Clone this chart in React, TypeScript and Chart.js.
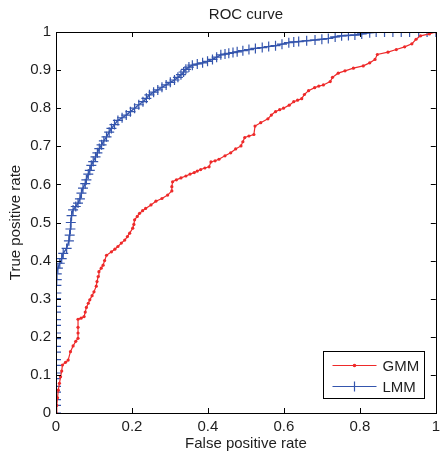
import React, { useEffect, useRef } from "react";
import { Chart, registerables } from "chart.js";

Chart.register(...registerables);

const xTicks = [0, 0.2, 0.4, 0.6, 0.8, 1];
const yTicks = [0, 0.1, 0.2, 0.3, 0.4, 0.5, 0.6, 0.7, 0.8, 0.9, 1];

const gmmLabel = "GMM";
const lmmLabel = "LMM";

const gmmFpr = [
  0, 0.002, 0.004, 0.006, 0.009, 0.012, 0.015, 0.017, 0.025, 0.032, 0.038, 0.045, 0.052, 0.058, 0.058, 0.058, 0.058,
  0.066, 0.074, 0.077, 0.08, 0.085, 0.089, 0.095, 0.1, 0.106, 0.108, 0.111, 0.113, 0.119, 0.124, 0.128, 0.133, 0.146,
  0.155, 0.163, 0.172, 0.181, 0.188, 0.194, 0.202, 0.205, 0.207, 0.214, 0.22, 0.228, 0.236, 0.25, 0.263, 0.279, 0.294,
  0.305, 0.305, 0.307, 0.317, 0.329, 0.342, 0.353, 0.364, 0.372, 0.381, 0.392, 0.403, 0.408, 0.419, 0.429, 0.445, 0.46,
  0.473, 0.487, 0.492, 0.497, 0.508, 0.521, 0.524, 0.539, 0.558, 0.567, 0.578, 0.589, 0.599, 0.614, 0.626, 0.636, 0.647,
  0.654, 0.665, 0.681, 0.692, 0.704, 0.722, 0.728, 0.743, 0.761, 0.783, 0.809, 0.826, 0.84, 0.846, 0.874, 0.896, 0.918,
  0.937, 0.948, 0.96, 0.983, 1.0,
];
const gmmTpr = [
  0, 0.02, 0.04, 0.06, 0.078, 0.095, 0.11, 0.126, 0.133, 0.139, 0.161, 0.176, 0.188, 0.196, 0.21, 0.225, 0.246,
  0.249, 0.253, 0.265, 0.277, 0.288, 0.297, 0.308, 0.318, 0.333, 0.345, 0.358, 0.371, 0.38, 0.388, 0.4, 0.414, 0.423,
  0.43, 0.437, 0.446, 0.454, 0.463, 0.472, 0.485, 0.495, 0.507, 0.516, 0.524, 0.531, 0.537, 0.546, 0.556, 0.563, 0.572,
  0.583, 0.594, 0.607, 0.612, 0.617, 0.622, 0.627, 0.631, 0.635, 0.639, 0.643, 0.646, 0.659, 0.662, 0.666, 0.675, 0.683,
  0.693, 0.701, 0.712, 0.723, 0.727, 0.731, 0.753, 0.762, 0.772, 0.782, 0.791, 0.796, 0.8, 0.808, 0.817, 0.821, 0.825,
  0.836, 0.846, 0.854, 0.858, 0.861, 0.87, 0.881, 0.892, 0.898, 0.905, 0.911, 0.919, 0.928, 0.941, 0.947, 0.954, 0.961,
  0.969, 0.981, 0.99, 0.995, 1.0,
];

const lmmFpr = [
  0, 0, 0, 0, 0, 0, 0, 0, 0, 0, 0, 0, 0, 0, 0, 0, 0, 0, 0.001, 0.001, 0.002, 0.002,
  0.005, 0.01, 0.015, 0.019, 0.028, 0.034, 0.036, 0.038, 0.039, 0.041, 0.045, 0.052, 0.058, 0.063, 0.067, 0.071, 0.077,
  0.08, 0.085, 0.089, 0.093, 0.098, 0.104, 0.109, 0.114, 0.12, 0.126, 0.133, 0.14, 0.146, 0.154, 0.163, 0.174, 0.185,
  0.196, 0.207, 0.218, 0.229, 0.238, 0.246, 0.257, 0.268, 0.279, 0.29, 0.301, 0.312, 0.321, 0.329, 0.336, 0.342, 0.35,
  0.359, 0.372, 0.386, 0.399, 0.412, 0.423, 0.434, 0.445, 0.455, 0.466, 0.477, 0.492, 0.508, 0.525, 0.543, 0.56, 0.578,
  0.595, 0.613, 0.626, 0.639, 0.66, 0.682, 0.7, 0.717, 0.735, 0.752, 0.77, 0.787, 0.805, 0.826, 0.843, 0.865, 0.887,
  0.909, 0.931, 0.955, 0.977, 1.0,
];
const lmmTpr = [
  0, 0.02, 0.035, 0.055, 0.07, 0.09, 0.105, 0.125, 0.14, 0.16, 0.175, 0.195, 0.21, 0.23, 0.245, 0.265, 0.28, 0.3, 0.315,
  0.335, 0.35, 0.365,
  0.38, 0.393, 0.405, 0.419, 0.432, 0.452, 0.467, 0.483, 0.5, 0.518, 0.533, 0.542, 0.551, 0.562, 0.577, 0.59, 0.602,
  0.612, 0.627, 0.637, 0.65, 0.66, 0.672, 0.683, 0.694, 0.704, 0.714, 0.725, 0.737, 0.747, 0.757, 0.768, 0.775, 0.782,
  0.791, 0.8, 0.809, 0.817, 0.826, 0.835, 0.842, 0.848, 0.855, 0.861, 0.868, 0.874, 0.881, 0.888, 0.895, 0.902, 0.908,
  0.913, 0.916, 0.919, 0.923, 0.928, 0.934, 0.94, 0.942, 0.944, 0.946, 0.948, 0.951, 0.954, 0.957, 0.959, 0.962, 0.964,
  0.968, 0.972, 0.974, 0.975, 0.977, 0.979, 0.981, 0.983, 0.987, 0.99, 0.991, 0.992, 0.995, 0.998, 1.0, 1.0, 1.0,
  1.0, 1.0, 1.0, 1.0, 1.0,
];

const RED = "#ee2a2a";
const BLUE = "#3455ad";
const FONT = "'Liberation Sans', Arial, Helvetica, sans-serif";
const TEXT = "#1e1e1e";

const framePlugin = {
  id: "matlabFrame",
  afterDatasetsDraw(chart: any) {
    const { ctx, chartArea, scales } = chart;
    const { left, right, top, bottom } = chartArea;
    const tl = 5;
    ctx.save();
    ctx.strokeStyle = "#000";
    ctx.lineWidth = 1;
    ctx.beginPath();
    for (const v of xTicks) {
      const px = Math.round(scales.x.getPixelForValue(v)) + 0.5;
      ctx.moveTo(px, bottom);
      ctx.lineTo(px, bottom - tl);
      ctx.moveTo(px, top);
      ctx.lineTo(px, top + tl);
    }
    for (const v of yTicks) {
      const py = Math.round(scales.y.getPixelForValue(v)) + 0.5;
      ctx.moveTo(left, py);
      ctx.lineTo(left + tl, py);
      ctx.moveTo(right, py);
      ctx.lineTo(right - tl, py);
    }
    ctx.stroke();
    ctx.strokeRect(Math.round(left) + 0.5, Math.round(top) + 0.5, Math.round(right - left), Math.round(bottom - top));

    // legend box
    const bw = 101;
    const bh = 47;
    const bx = Math.round(right - 12 - bw) + 0.5;
    const by = Math.round(bottom - 15 - bh) + 0.5;
    ctx.fillStyle = "#fff";
    ctx.fillRect(bx, by, bw, bh);
    ctx.strokeStyle = "#000";
    ctx.strokeRect(bx, by, bw, bh);
    const items = chart.data.datasets;
    const rows = [by + 13, by + 34];
    items.forEach((ds: any, i: number) => {
      const y = Math.round(rows[i]) + 0.5;
      ctx.strokeStyle = ds.borderColor;
      ctx.lineWidth = 1;
      ctx.beginPath();
      ctx.moveTo(bx + 9, y);
      ctx.lineTo(bx + 53, y);
      ctx.stroke();
      const cx = bx + 31;
      if (ds.pointStyle === "cross") {
        ctx.beginPath();
        ctx.lineWidth = 1.2;
        ctx.moveTo(cx - 5, y);
        ctx.lineTo(cx + 5, y);
        ctx.moveTo(cx, y - 5);
        ctx.lineTo(cx, y + 5);
        ctx.stroke();
      } else {
        ctx.fillStyle = ds.borderColor;
        ctx.beginPath();
        ctx.arc(cx, y, 1.8, 0, Math.PI * 2);
        ctx.fill();
      }
      ctx.fillStyle = TEXT;
      ctx.font = `15px ${FONT}`;
      ctx.textBaseline = "middle";
      ctx.textAlign = "left";
      ctx.fillText(ds.label, bx + 59, y + 1);
    });
    ctx.restore();
  },
};

export default function App() {
  const ref = useRef<HTMLCanvasElement | null>(null);
  useEffect(() => {
    document.body.style.margin = "0";
    const canvas = ref.current;
    if (!canvas) return;
    const chart = new Chart(canvas, {
      type: "scatter",
      data: {
        datasets: [
          {
            label: gmmLabel,
            data: gmmFpr.map((x, i) => ({ x, y: gmmTpr[i] })),
            showLine: true,
            borderColor: RED,
            backgroundColor: RED,
            borderWidth: 1.2,
            pointStyle: "circle",
            pointRadius: 1.6,
            pointBorderWidth: 0,
            pointBackgroundColor: RED,
            tension: 0,
          },
          {
            label: lmmLabel,
            data: lmmFpr.map((x, i) => ({ x, y: lmmTpr[i] })),
            showLine: true,
            borderColor: BLUE,
            backgroundColor: BLUE,
            borderWidth: 1.4,
            pointStyle: "cross",
            pointRadius: 5,
            pointBorderWidth: 1.2,
            pointBorderColor: BLUE,
            tension: 0,
          },
        ],
      },
      options: {
        responsive: false,
        animation: false,
        devicePixelRatio: 1,
        layout: { padding: { left: 0, right: 4, top: 0, bottom: 0 } },
        plugins: {
          legend: { display: false },
          tooltip: { enabled: false },
          title: { display: false },
        },
        scales: {
          x: {
            type: "linear",
            min: 0,
            max: 1,
            afterBuildTicks: (s: any) => {
              s.ticks = xTicks.map((v) => ({ value: v }));
            },
            afterFit: (s: any) => {
              s.height = 47;
              s.paddingLeft = 0;
              s.paddingRight = 0;
            },
            ticks: {
              color: TEXT,
              font: { family: FONT, size: 15 },
              padding: 5,
              maxRotation: 0,
              callback: (v: any) => String(v),
            },
            grid: { display: false, drawTicks: false },
            border: { display: false },
            title: {
              display: true,
              text: "False positive rate",
              color: TEXT,
              font: { family: FONT, size: 15 },
              padding: { top: 0, bottom: 7 },
            },
          },
          xTop: {
            type: "linear",
            position: "top",
            min: 0,
            max: 1,
            afterFit: (s: any) => {
              s.height = 32;
              s.paddingLeft = 0;
              s.paddingRight = 0;
            },
            ticks: { display: false },
            grid: { display: false, drawTicks: false },
            border: { display: false },
            title: {
              display: true,
              text: "ROC curve",
              color: TEXT,
              font: { family: FONT, size: 15 },
              padding: { top: 6, bottom: 0 },
            },
          },
          y: {
            type: "linear",
            min: 0,
            max: 1,
            afterBuildTicks: (s: any) => {
              s.ticks = yTicks.map((v) => ({ value: v }));
            },
            afterFit: (s: any) => {
              s.width = 56;
              s.paddingTop = 0;
              s.paddingBottom = 0;
            },
            ticks: {
              color: TEXT,
              font: { family: FONT, size: 15 },
              padding: 5,
              callback: (v: any) => String(v),
            },
            grid: { display: false, drawTicks: false },
            border: { display: false },
            title: {
              display: true,
              text: "True positive rate",
              color: TEXT,
              font: { family: FONT, size: 15 },
              padding: { top: 7, bottom: 0 },
            },
          },
        },
      },
      plugins: [framePlugin],
    });
    return () => chart.destroy();
  }, []);
  return (
    <div style={{ width: 442, height: 460, background: "#fff" }}>
      <canvas ref={ref} width={442} height={460} style={{ display: "block" }} />
    </div>
  );
}
